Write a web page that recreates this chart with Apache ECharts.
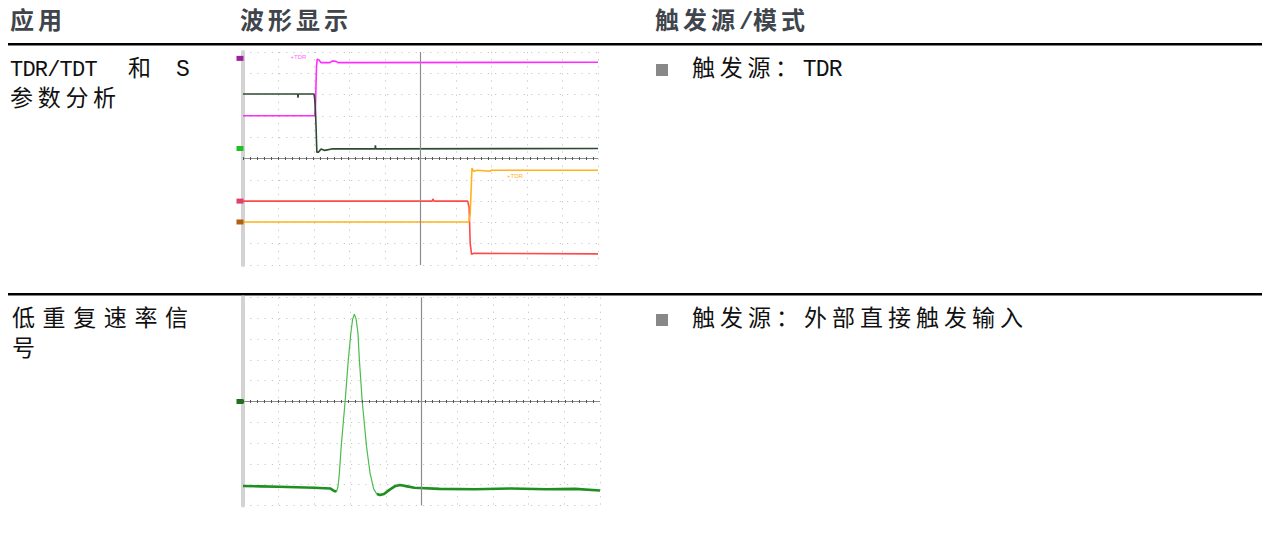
<!DOCTYPE html>
<html>
<head>
<meta charset="utf-8">
<script src="https://cdn.jsdelivr.net/npm/echarts@6/dist/echarts.min.js"></script>
<style>
  html, body { margin: 0; padding: 0; background: #fff; }
  #main { width: 1270px; height: 534px; }
</style>
</head>
<body>
<div id="main"></div>
<script>
// 表头与文字
var headers = ['应用', '波形显示', '触发源/模式'];
var row1Label = ['TDR/TDT', '和', 'S', '参数分析'];
var row2Label = ['低重复速率信', '号'];
var triggers = ['触发源：TDR', '触发源：外部直接触发输入'];

// 波形（x: 格, 0~10；y: 格, -5~5）
var magentaTrace = [[0, 2.01], [2.02, 2.01], [2.04, 2.4], [2.07, 4.3], [2.09, 4.66], [2.14, 4.62], [2.2, 4.5], [2.45, 4.5], [2.52, 4.58], [2.62, 4.56], [2.68, 4.5], [10, 4.52]];
var greenTrace = [[0, 3.03], [1.54, 3.03], [1.55, 2.85], [1.56, 3.03], [2.0, 3.03], [2.02, 2.8], [2.04, 2.3], [2.06, 1.4], [2.08, 0.3], [2.13, 0.3], [2.2, 0.45], [2.3, 0.38], [2.5, 0.45], [3.72, 0.45], [3.73, 0.62], [3.74, 0.45], [10, 0.47]];
var redTrace = [[0, -2.0], [5.33, -2.0], [5.35, -1.9], [5.38, -2.0], [6.33, -2.0], [6.37, -2.3], [6.4, -4.0], [6.44, -4.5], [6.5, -4.45], [10, -4.48]];
var orangeTrace = [[0, -2.98], [6.36, -2.98], [6.4, -2.6], [6.45, -0.45], [6.5, -0.6], [6.6, -0.55], [6.95, -0.6], [7.0, -0.55], [10, -0.55]];
var pulseTrace = [[2.62, -4.33], [2.66, -4.1], [2.70, -3.45], [2.75, -2.17], [2.86, 0], [2.95, 2.0], [3.02, 3.28], [3.07, 3.95], [3.12, 4.2], [3.17, 3.95], [3.22, 3.28], [3.26, 2.0], [3.34, 0], [3.46, -2.17], [3.56, -3.45], [3.66, -4.2], [3.75, -4.45]];
var baseTrace = [[0, -4.06], [0.5, -4.08], [1.0, -4.1], [1.5, -4.12], [2.0, -4.15], [2.44, -4.18], [2.55, -4.3], [2.62, -4.33], null, [3.75, -4.45], [3.84, -4.5], [3.95, -4.45], [4.1, -4.25], [4.25, -4.08], [4.4, -4.01], [4.6, -4.08], [4.8, -4.15], [5.5, -4.2], [6.5, -4.22], [7.5, -4.18], [8.5, -4.22], [9.3, -4.2], [10, -4.28]];

var chart = echarts.init(document.getElementById('main'), null, { renderer: 'svg' });

var dotX = { color: '#c6c6c6', type: [1.2, 5.9], width: 1 };
var dotY = { color: '#c6c6c6', type: [1.2, 6], width: 1 };

function xAx(i) {
  return {
    type: 'value', gridIndex: i, min: 0, max: 10, interval: 1,
    axisLine: { show: false }, axisTick: { show: false }, axisLabel: { show: false },
    splitLine: { show: true, lineStyle: dotX }
  };
}
function yAx(i) {
  return {
    type: 'value', gridIndex: i, min: -5, max: 5, interval: 1,
    axisLine: { show: true, onZero: false, lineStyle: { color: '#d3d3d3', width: 4 } },
    axisTick: { show: false }, axisLabel: { show: false },
    splitLine: { show: true, lineStyle: dotY }
  };
}
var cross = {
  silent: true, symbol: ['none', 'none'], label: { show: false },
  lineStyle: { color: '#8c8c8c', type: 'solid', width: 1.2 },
  data: [
    { xAxis: 5 }, { yAxis: 0 },
    { yAxis: 0, lineStyle: { color: '#555', type: [1, 6], width: 3 } }
  ]
};
function marker(level, color) {
  return { coord: [0, level], symbol: 'rect', symbolSize: [7, 5], symbolOffset: [-3, 0], itemStyle: { color: color } };
}
function trace(name, grid, data, color, width, extra) {
  var s = {
    name: name, type: 'line', xAxisIndex: grid, yAxisIndex: grid, data: data,
    showSymbol: false, symbol: 'none', animation: false, connectNulls: false,
    lineStyle: { color: color, width: width }, z: 3
  };
  for (var k in extra) s[k] = extra[k];
  return s;
}

// 逐字排版（原文字距较宽）
function spaced(x, y, s, size, color, weight, cjkStep, latinStep) {
  var kids = [];
  var cx = x;
  for (var i = 0; i < s.length; i++) {
    var ch = s.charAt(i);
    kids.push({
      type: 'text', x: cx, y: y,
      style: {
        text: ch, fill: color, fontSize: size, fontWeight: weight,
        fontFamily: '"Liberation Mono", "Noto Sans CJK SC", sans-serif', verticalAlign: 'middle'
      }
    });
    cx += ch.charCodeAt(0) > 255 ? cjkStep : latinStep;
  }
  return { type: 'group', children: kids };
}
var head = function (x, s) { return spaced(x, 22, s, 24, '#40454c', 'bold', 28, 14); };
var body = function (x, y, s, step) { return spaced(x, y, s, 23, '#111', 'normal', step || 27.7, 13); };

var graphic = [
  head(10, headers[0]),
  head(240, headers[1]),
  head(655, headers[2]),
  { type: 'rect', shape: { x: 8, y: 43, width: 1254, height: 2.5 }, style: { fill: '#000' } },
  spaced(10, 70, row1Label[0], 22, '#111', 'normal', 22, 12.4),
  body(128, 70, row1Label[1]),
  body(176, 70, row1Label[2]),
  body(10, 100, row1Label[3]),
  { type: 'rect', shape: { x: 656, y: 64, width: 12, height: 12 }, style: { fill: '#888' } },
  body(692, 70, triggers[0]),
  { type: 'rect', shape: { x: 8, y: 293, width: 1254, height: 2.5 }, style: { fill: '#000' } },
  body(12, 320, row2Label[0], 30.6),
  body(12, 350, row2Label[1]),
  { type: 'rect', shape: { x: 656, y: 314, width: 12, height: 12 }, style: { fill: '#888' } },
  body(692, 320, triggers[1], 28)
];

chart.setOption({
  animation: false,
  grid: [
    { left: 243, top: 52, width: 355, height: 213 },
    { left: 243, top: 297.5, width: 357, height: 208 }
  ],
  xAxis: [xAx(0), xAx(1)],
  yAxis: [yAx(0), yAx(1)],
  graphic: graphic,
  series: [
    trace('TDR+', 0, magentaTrace, '#ff2cff', 1.6, {
      markLine: cross,
      markPoint: { silent: true, data: [marker(4.7, '#a0209a'),
        { coord: [1.56, 4.77], symbolSize: 0, label: { show: true, formatter: '+TDR', fontSize: 6, color: '#ff66ff' } }] }
    }),
    trace('TDT', 0, greenTrace, '#2e4a30', 1.6, { markPoint: { silent: true, data: [marker(0.47, '#1fc01f')] } }),
    trace('TDR-', 0, redTrace, '#ff4a4a', 1.6, { markPoint: { silent: true, data: [marker(-2.0, '#e0406a')] } }),
    trace('TDT-', 0, orangeTrace, '#ffb21a', 1.6, {
      markPoint: { silent: true, data: [marker(-2.98, '#b0600f'),
        { coord: [7.66, -0.82], symbolSize: 0, label: { show: true, formatter: '+TDR', fontSize: 6, color: '#ffb21a' } }] }
    }),
    trace('pulse', 1, pulseTrace, '#4dbb4d', 1.2, { markLine: cross }),
    trace('base', 1, baseTrace, '#1f8f1f', 2.6, { markPoint: { silent: true, data: [marker(0, '#1f6f1f')] } })
  ]
});
</script>
</body>
</html>
